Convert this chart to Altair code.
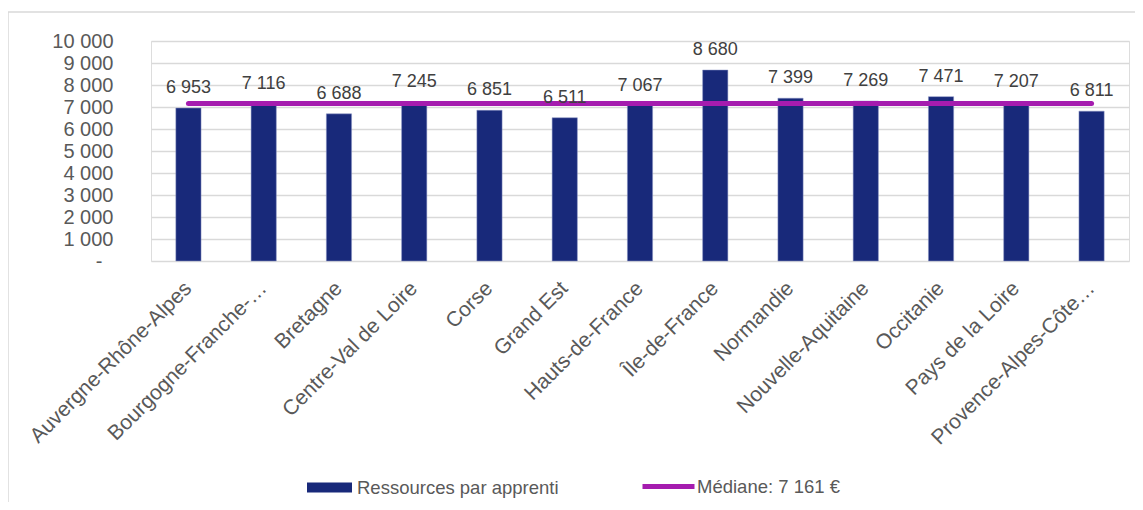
import altair as alt
import pandas as pd

categories = [
    "Auvergne-Rhône-Alpes", "Bourgogne-Franche-…", "Bretagne", "Centre-Val de Loire",
    "Corse", "Grand Est", "Hauts-de-France", "Île-de-France", "Normandie",
    "Nouvelle-Aquitaine", "Occitanie", "Pays de la Loire", "Provence-Alpes-Côte…",
]
values = [6953, 7116, 6688, 7245, 6851, 6511, 7067, 8680, 7399, 7269, 7471, 7207, 6811]
median_value = 7161
bar_series = "Ressources par apprenti"
median_series = "Médiane: 7 161 €"
y_ticks = list(range(0, 10001, 1000))

NAVY = "#18297a"
PURPLE = "#a51caf"
FONT = "Liberation Sans"

df = pd.DataFrame({
    "region": categories,
    "value": values,
    "label": [f"{v:,}".replace(",", " ") for v in values],
    "serie": bar_series,
})
df_med = pd.DataFrame({
    "region": categories,
    "value": [median_value] * len(categories),
    "serie": median_series,
})

x_enc = alt.X(
    "region:N", sort=categories, title=None,
    scale=alt.Scale(paddingInner=0.665, paddingOuter=0.33),
    axis=alt.Axis(labelAngle=-45, labelAlign="right", labelBaseline="middle",
                  labelFontSize=21, labelColor="#595959", labelFont=FONT,
                  domain=False, ticks=False, labelPadding=24, labelLimit=400,
                  labelOverlap=False, grid=False),
)
y_enc = alt.Y(
    "value:Q", title=None,
    scale=alt.Scale(domain=[0, 10000], nice=False),
    axis=alt.Axis(values=y_ticks, tickCount=11, domain=False, ticks=False, labelFontSize=20,
                  labelColor="#595959", labelFont=FONT, labelPadding=38,
                  labelOverlap=False,
                  gridColor="#d9d9d9", gridWidth=1.5,
                  labelExpr="datum.value == 0 ? '-\u00a0\u00a0\u2060' : replace(format(datum.value, ','), ',', ' ')"),
)

bars = alt.Chart(df).mark_bar(color=NAVY, stroke="#8a95c4", strokeWidth=0.5).encode(
    x=x_enc, y=y_enc,
    color=alt.Color("serie:N", scale=alt.Scale(domain=[bar_series], range=[NAVY]),
                    legend=alt.Legend(title=None, orient="none", legendX=156, legendY=424,
                                      direction="horizontal", labelFontSize=18.5,
                                      labelColor="#595959", labelFont=FONT, labelLimit=400,
                                      symbolType="M-1,-0.22H1V0.22H-1Z", symbolSize=2025,
                                      symbolStrokeWidth=0, labelOffset=5, padding=0)),
)

line = alt.Chart(df_med).mark_line(strokeWidth=5, strokeCap="round").encode(
    x=x_enc,
    y=y_enc,
    color=alt.Color("serie:N", scale=alt.Scale(domain=[median_series], range=[PURPLE]),
                    legend=alt.Legend(title=None, orient="none", legendX=489, legendY=417,
                                      direction="horizontal", labelFontSize=18.5,
                                      labelColor="#595959", labelFont=FONT, labelLimit=400,
                                      symbolType="stroke", symbolSize=2704,
                                      symbolStrokeWidth=5, labelOffset=0, padding=0)),
)

labels = alt.Chart(df).mark_text(fontSize=18, font=FONT, color="#404040",
                                 baseline="alphabetic", dy=-15).encode(
    x=x_enc,
    y=y_enc,
    text="label:N",
)

frame_left = alt.Chart(df.head(1)).mark_rule(color="#d9d9d9", strokeWidth=1.5).encode(
    x=alt.value(-143), y=alt.value(-29), y2=alt.value(600))
frame_top = alt.Chart(df.head(1)).mark_rule(color="#d9d9d9", strokeWidth=1.5).encode(
    x=alt.value(-143), x2=alt.value(1100), y=alt.value(-29))

chart = alt.layer(bars, line, labels, frame_left, frame_top).resolve_scale(
    color="independent"
).properties(
    width=978, height=220,
    autosize=alt.AutoSizeParams(type="none"),
    padding={"left": 143, "top": 33, "right": 6, "bottom": 241},
).configure_view(stroke=None).configure(font=FONT, background="white")

chart.save("out.html", embed_options={"renderer": "svg", "actions": False})
